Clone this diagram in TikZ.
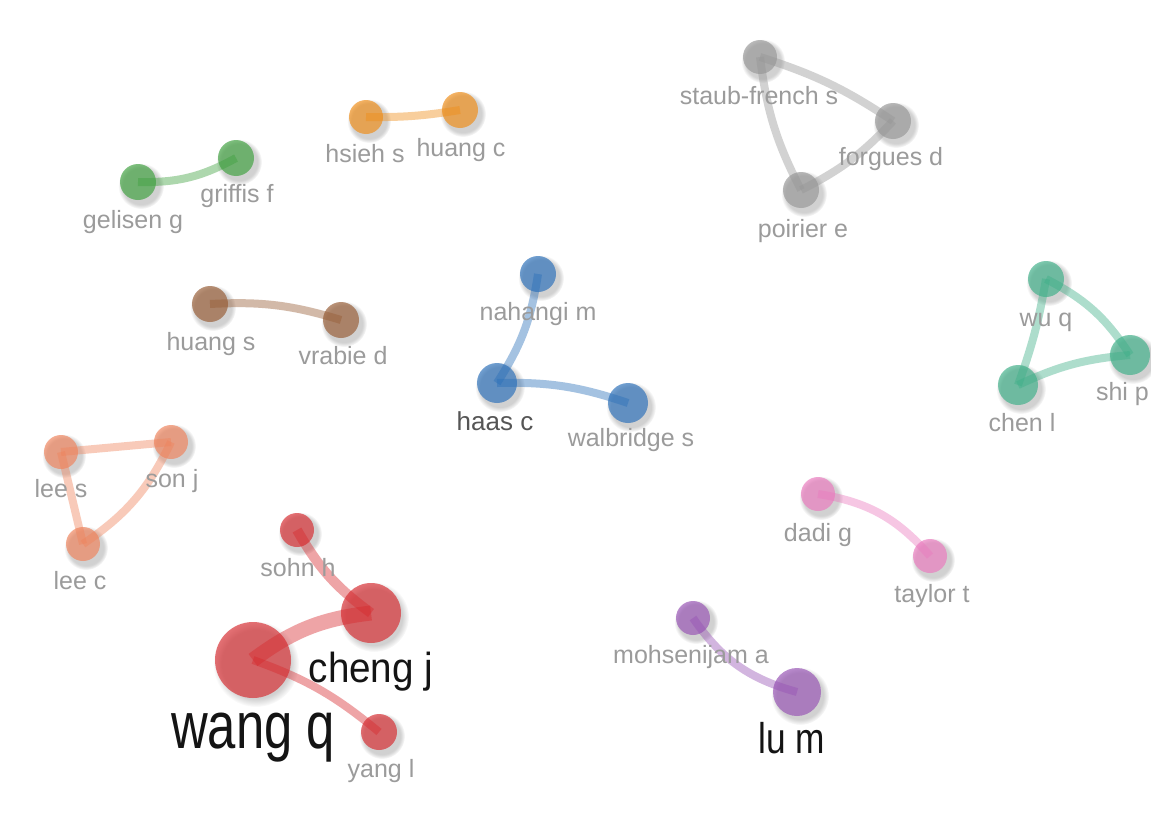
\documentclass[tikz,border=0pt]{standalone}
\usepackage{fontspec}
\setmainfont{Liberation Sans}
\usetikzlibrary{fadings}

% cluster colours
\definecolor{cred}{RGB}{215,40,45}
\definecolor{cgreen}{RGB}{60,160,60}
\definecolor{cblue}{RGB}{40,110,185}
\definecolor{corange}{RGB}{240,140,20}
\definecolor{cgrey}{RGB}{150,150,150}
\definecolor{cbrown}{RGB}{150,90,50}
\definecolor{cteal}{RGB}{60,175,135}
\definecolor{csalmon}{RGB}{240,130,90}
\definecolor{cpink}{RGB}{235,120,190}
\definecolor{cpurple}{RGB}{150,80,180}
\definecolor{labgrey}{RGB}{155,155,155}
\definecolor{labdark}{RGB}{85,85,85}
\definecolor{labblack}{RGB}{20,20,20}

\tikzset{
  item/.style={circle, inner sep=0pt, draw=none, fill=#1, fill opacity=0.66},
  link/.style={draw=#1, draw opacity=0.42, line cap=butt, line width=8pt},
  lab/.style={anchor=base, inner sep=0pt, text=labgrey,
              font=\fontsize{25}{25}\selectfont},
  bigl/.style={anchor=base, inner sep=0pt, text=labblack},
}

% soft shadow, then the author circle
\newcommand\authorbubble[5]{%
  \fill[black, opacity=0.18, path fading=circle with fuzzy edge 20 percent]
    (#2+3,#3+4) circle[radius=#4pt+5pt];
  \node[item=#5, minimum size=2*#4pt] (#1) at (#2,#3) {};
}

\begin{document}
\begin{tikzpicture}[x=1pt,y=-1pt]
\useasboundingbox (0,0) rectangle (1151,819);
\fill[white] (0,0) rectangle (1151,819);
\begin{scope}
\clip (0,0) rectangle (1151,819);

% ---- authors ----
\authorbubble{gelisen}{138}{182}{18}{cgreen}
\authorbubble{griffis}{236}{158}{18}{cgreen}
\authorbubble{hsieh}{366}{117}{17}{corange}
\authorbubble{huangc}{460}{110}{18}{corange}
\authorbubble{staub}{760}{57}{17}{cgrey}
\authorbubble{forgues}{893}{121}{18}{cgrey}
\authorbubble{poirier}{801}{190}{18}{cgrey}
\authorbubble{huangs}{210}{304}{18}{cbrown}
\authorbubble{vrabie}{341}{320}{18}{cbrown}
\authorbubble{nahangi}{538}{274}{18}{cblue}
\authorbubble{haas}{497}{383}{20}{cblue}
\authorbubble{walbridge}{628}{403}{20}{cblue}
\authorbubble{wuq}{1046}{279}{18}{cteal}
\authorbubble{ship}{1130}{355}{20}{cteal}
\authorbubble{chenl}{1018}{385}{20}{cteal}
\authorbubble{lees}{61}{452}{17}{csalmon}
\authorbubble{sonj}{171}{442}{17}{csalmon}
\authorbubble{leec}{83}{544}{17}{csalmon}
\authorbubble{sohn}{297}{530}{17}{cred}
\authorbubble{cheng}{371}{613}{30}{cred}
\authorbubble{wang}{253}{660}{38}{cred}
\authorbubble{yang}{379}{732}{18}{cred}
\authorbubble{dadi}{818}{494}{17}{cpink}
\authorbubble{taylor}{930}{556}{17}{cpink}
\authorbubble{mohsenijam}{693}{618}{17}{cpurple}
\authorbubble{lum}{797}{692}{24}{cpurple}

% ---- links ----
\draw[link=cgreen] (gelisen.center) to[bend right=15] (griffis.center);
\draw[link=corange] (hsieh.center) to[bend right=5] (huangc.center);
\draw[link=cgrey] (staub.center) to[bend left=8] (forgues.center);
\draw[link=cgrey] (staub.center) to[bend right=10] (poirier.center);
\draw[link=cgrey] (poirier.center) to[bend right=10] (forgues.center);
\draw[link=cbrown] (huangs.center) to[bend left=10] (vrabie.center);
\draw[link=cblue] (nahangi.center) to[bend left=12] (haas.center);
\draw[link=cblue] (haas.center) to[bend left=10] (walbridge.center);
\draw[link=cteal] (wuq.center) to[bend left=15] (ship.center);
\draw[link=cteal] (wuq.center) to[bend left=5] (chenl.center);
\draw[link=cteal] (chenl.center) to[bend left=10] (ship.center);
\draw[link=csalmon] (lees.center) to (sonj.center);
\draw[link=csalmon] (lees.center) to (leec.center);
\draw[link=csalmon] (leec.center) to[bend right=15] (sonj.center);
\draw[link=cred, line width=10pt] (sohn.center) to[bend right=12] (cheng.center);
\draw[link=cred, line width=15pt] (wang.center) to[bend left=15] (cheng.center);
\draw[link=cred] (wang.center) to[bend left=10] (yang.center);
\draw[link=cpink] (dadi.center) to[bend left=20] (taylor.center);
\draw[link=cpurple] (mohsenijam.center) to[bend right=20] (lum.center);

% ---- labels ----
\node[lab] (tgelisen) at (133,228) {gelisen g};
\node[lab] (tgriffis) at (237,202) {griffis f};
\node[lab] (thsieh) at (365,162) {hsieh s};
\node[lab] (thuangc) at (461,156) {huang c};
\node[lab] (tstaub) at (759,104) {staub-french s};
\node[lab] (tforgues) at (891,165) {forgues d};
\node[lab] (tpoirier) at (803,237) {poirier e};
\node[lab] (thuangs) at (211,350) {huang s};
\node[lab] (tvrabie) at (343,364) {vrabie d};
\node[lab] (tnahangi) at (538,320) {nahangi m};
\node[lab, text=labdark, font=\fontsize{26}{26}\selectfont] (thaas) at (495,430) {haas c};
\node[lab] (twalbridge) at (631,446) {walbridge s};
\node[lab] (twuq) at (1046,326) {wu q};
\node[lab, anchor=base east] (tshi) at (1149,400) {shi p};
\node[lab] (tchen) at (1022,431) {chen l};
\node[lab] (tlees) at (61,497) {lee s};
\node[lab] (tsonj) at (172,487) {son j};
\node[lab] (tleec) at (80,589) {lee c};
\node[lab] (tsohn) at (298,576) {sohn h};
\node[lab] (tyang) at (381,777) {yang l};
\node[lab] (tdadi) at (818,541) {dadi g};
\node[lab] (ttaylor) at (932,602) {taylor t};
\node[lab] (tmohs) at (691,663) {mohsenijam a};
\node[bigl, font=\fontsize{42}{42}\selectfont, xscale=0.92] (tcheng) at (371,682) {cheng j};
\node[bigl, font=\fontsize{66}{66}\selectfont, xscale=0.77] (twang) at (253,748) {wang q};
\node[bigl, font=\fontsize{43}{43}\selectfont, xscale=0.82] (tlum) at (792,753) {lu m};
\end{scope}
\end{tikzpicture}
\end{document}
